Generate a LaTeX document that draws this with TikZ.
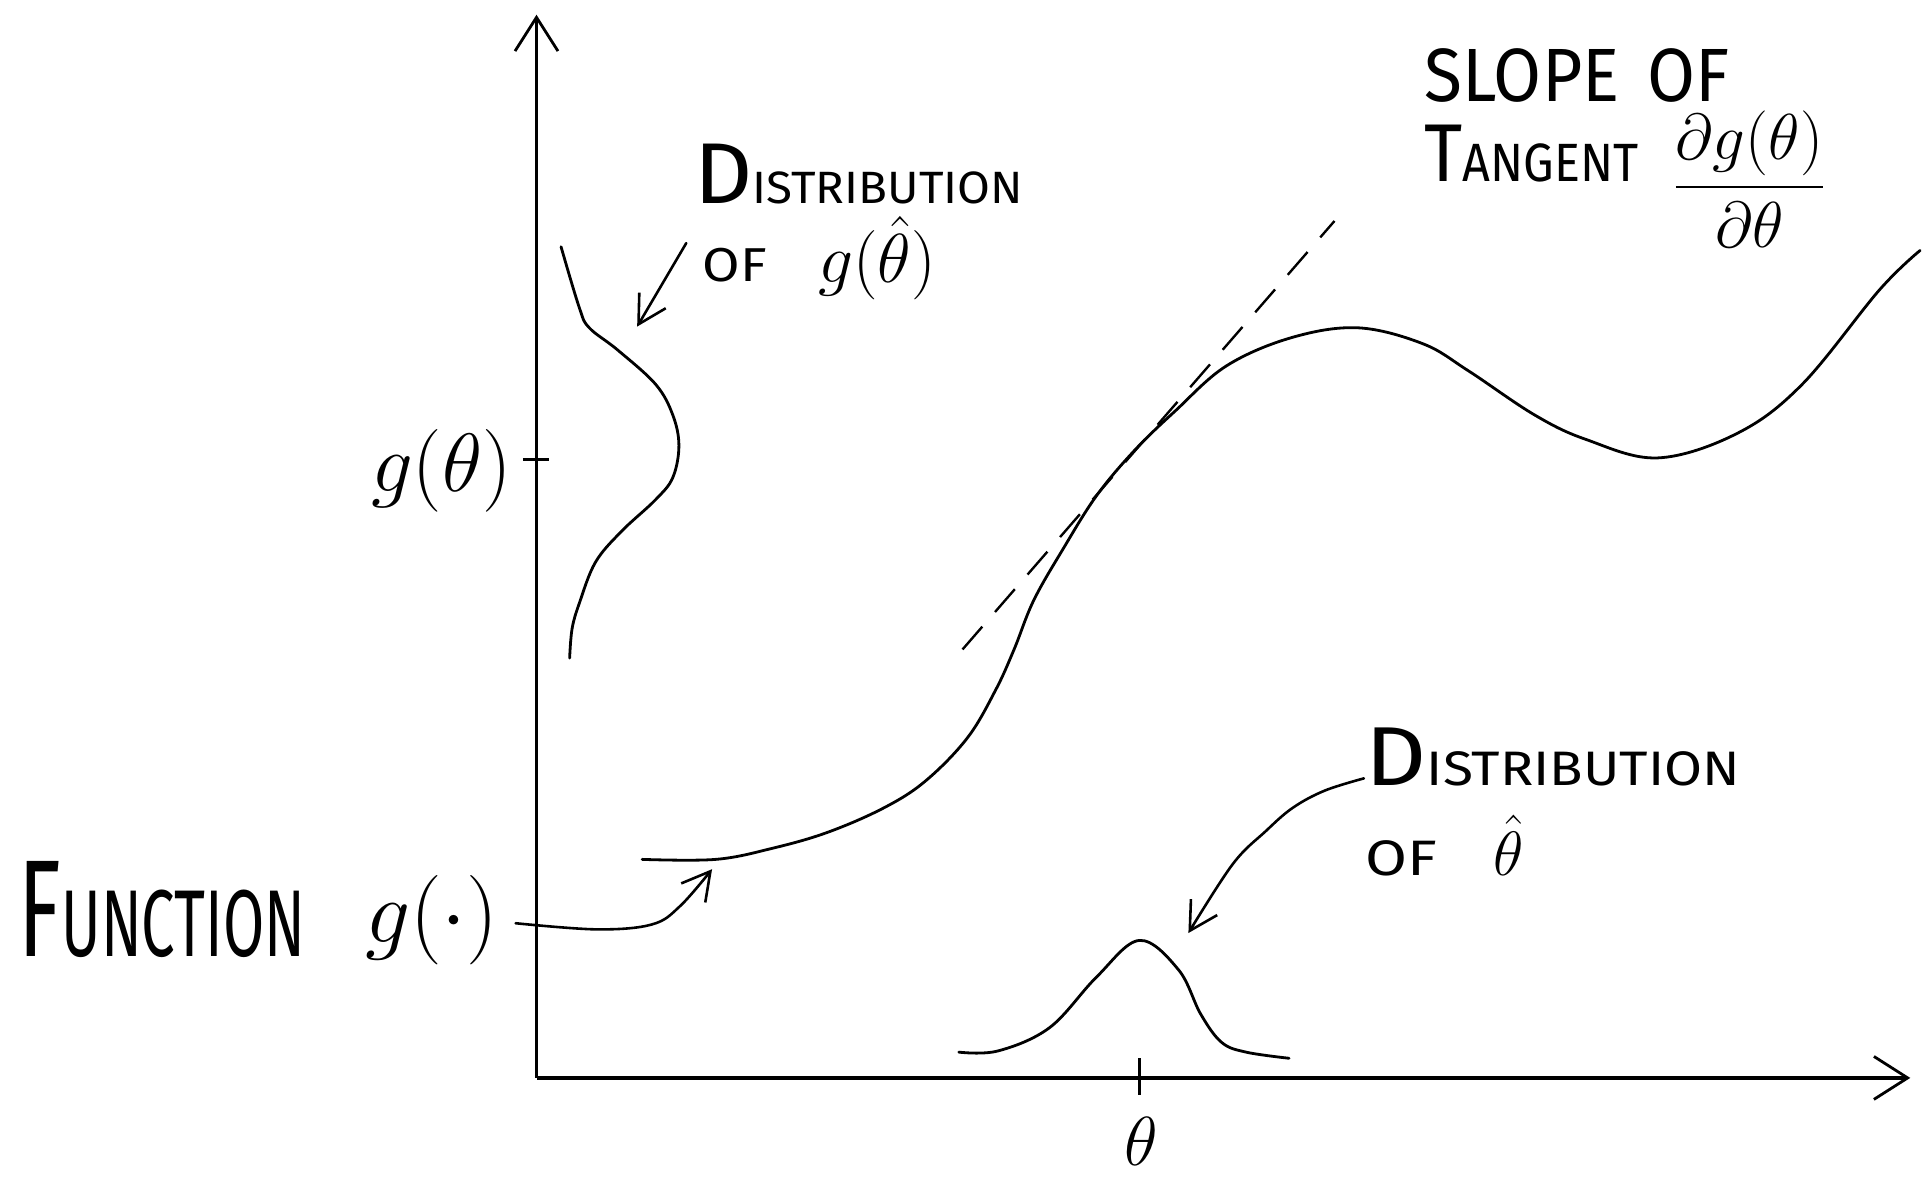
\documentclass[tikz,border=0pt]{standalone}
\usepackage{graphicx}
\usepackage{fontspec}
\setmainfont{Fira Sans}
\usetikzlibrary{arrows.meta}
\newcommand{\hl}[4]{{\fontsize{#1}{#1}\selectfont #3}{\fontsize{#2}{#2}\selectfont #4}}
\newcommand{\fs}[1]{\fontsize{#1}{#1}\selectfont}
\newcommand{\mth}[2]{\scalebox{#1}{\fs{20}$#2$}}
\tikzset{
  curve/.style={line width=1.3pt, line cap=round, line join=round},
  axis/.style={line width=1.5pt, -{Straight Barb[length=0.55cm, width=0.7cm, line width=1.3pt]}},
  note/.style={line width=1.2pt, line cap=round, -{Straight Barb[length=0.45cm, width=0.5cm, line width=1.2pt]}},
  lbl/.style={inner sep=0pt, anchor=base west},
}
\begin{document}
\begin{tikzpicture}[x=0.02cm, y=-0.02cm]
\useasboundingbox (0,0) rectangle (1568,960);
% axes
\coordinate (O) at (437,878);
\coordinate (ytop) at (437,12);
\coordinate (xend) at (1556,878);
\draw[axis] (O) -- (ytop);
\draw[axis] (O) -- (xend);
% ticks
\coordinate (tyA) at (426,374); \coordinate (tyB) at (447,374);
\draw[line width=1.5pt] (tyA) -- (tyB);
\coordinate (txA) at (928,862); \coordinate (txB) at (928,892);
\draw[line width=1.5pt] (txA) -- (txB);
% tick labels
\node[inner sep=0pt, anchor=base east] (gtheta) at (417,400) {\mth{1.85}{g(\theta)}};
\node[inner sep=0pt] (theta) at (930,930) {\mth{1.55}{\theta}};
% left distribution (vertical bell)
\draw[curve] plot[smooth, tension=0.6] coordinates {(457,201) (472,251) (480,267) (503,285) (534,313) (548,338) (553,363) (548,389) (534,407) (506,433) (485,458) (472,491) (466,512) (464,536)};
% main function
\draw[curve] plot[smooth, tension=0.6] coordinates {(523,700) (583,700) (629,691) (674,678) (720,658) (754,636) (788,601) (811,562) (826,529) (842,489) (866,447) (893,404) (924,367) (957,335) (999,298) (1052,275) (1106,267) (1159,280) (1196,302) (1250,338) (1292,358) (1350,373) (1415,353) (1468,313) (1531,236) (1564,204)};
% tangent
\coordinate (tA) at (784,529); \coordinate (tB) at (1087,180);
\draw[line width=1.1pt, dash pattern=on 14pt off 9pt] (tA) -- (tB);
% bottom distribution
\draw[curve] plot[smooth, tension=0.6] coordinates {(781,857) (813,856) (855,837) (893,796) (928,766) (960,790) (978,826) (995,849) (1015,857) (1050,862)};
% labels
\node[lbl] (dist1) at (565,166) {\scalebox{1.05}[1.0]{\hl{40}{21}{D}{ISTRIBUTION}}};
\node[lbl] (of1) at (572,229) {\scalebox{1.2}[1.05]{\fs{21}OF}};
\node[lbl] (gth1) at (666,230) {\mth{1.55}{g(\hat{\theta})}};
\node[lbl] (slope) at (1160,83) {\scalebox{0.92}[1.0]{\fs{35}SLOPE\hspace{0.5cm}OF}};
\node[lbl] (tang) at (1160,148) {\scalebox{0.9}[1.0]{\hl{38}{25}{T}{ANGENT}}};
\node[inner sep=0pt] (frac) at (1425,146) {\mth{1.45}{\displaystyle\frac{\partial g(\theta)}{\partial\theta}}};
\node[lbl] (func) at (15,779) {\scalebox{0.63}[1.0]{\hl{64}{44}{F}{UNCTION}}};
\node[lbl] (gdot) at (297,768) {\mth{2}{g(\cdot)}};
\node[lbl] (dist2) at (1112,640) {\scalebox{1.16}[1.02]{\hl{38}{22}{D}{ISTRIBUTION}}};
\node[lbl] (of2) at (1112,713) {\scalebox{1.28}[1.05]{\fs{22}OF}};
\node[lbl] (th2) at (1216,713) {\mth{1.4}{\hat{\theta}}};
% annotation arrows
\coordinate (a1s) at (559,198); \coordinate (a1e) at (519,266);
\draw[note] (a1s) -- (a1e);
\draw[note] plot[smooth, tension=0.6] coordinates {(420,752) (486,757) (531,753) (554,738) (580,708)};
\draw[note] plot[smooth, tension=0.6] coordinates {(1111,634) (1079,644) (1053,658) (1031,677) (1004,704) (968,760)};
\end{tikzpicture}
\end{document}
